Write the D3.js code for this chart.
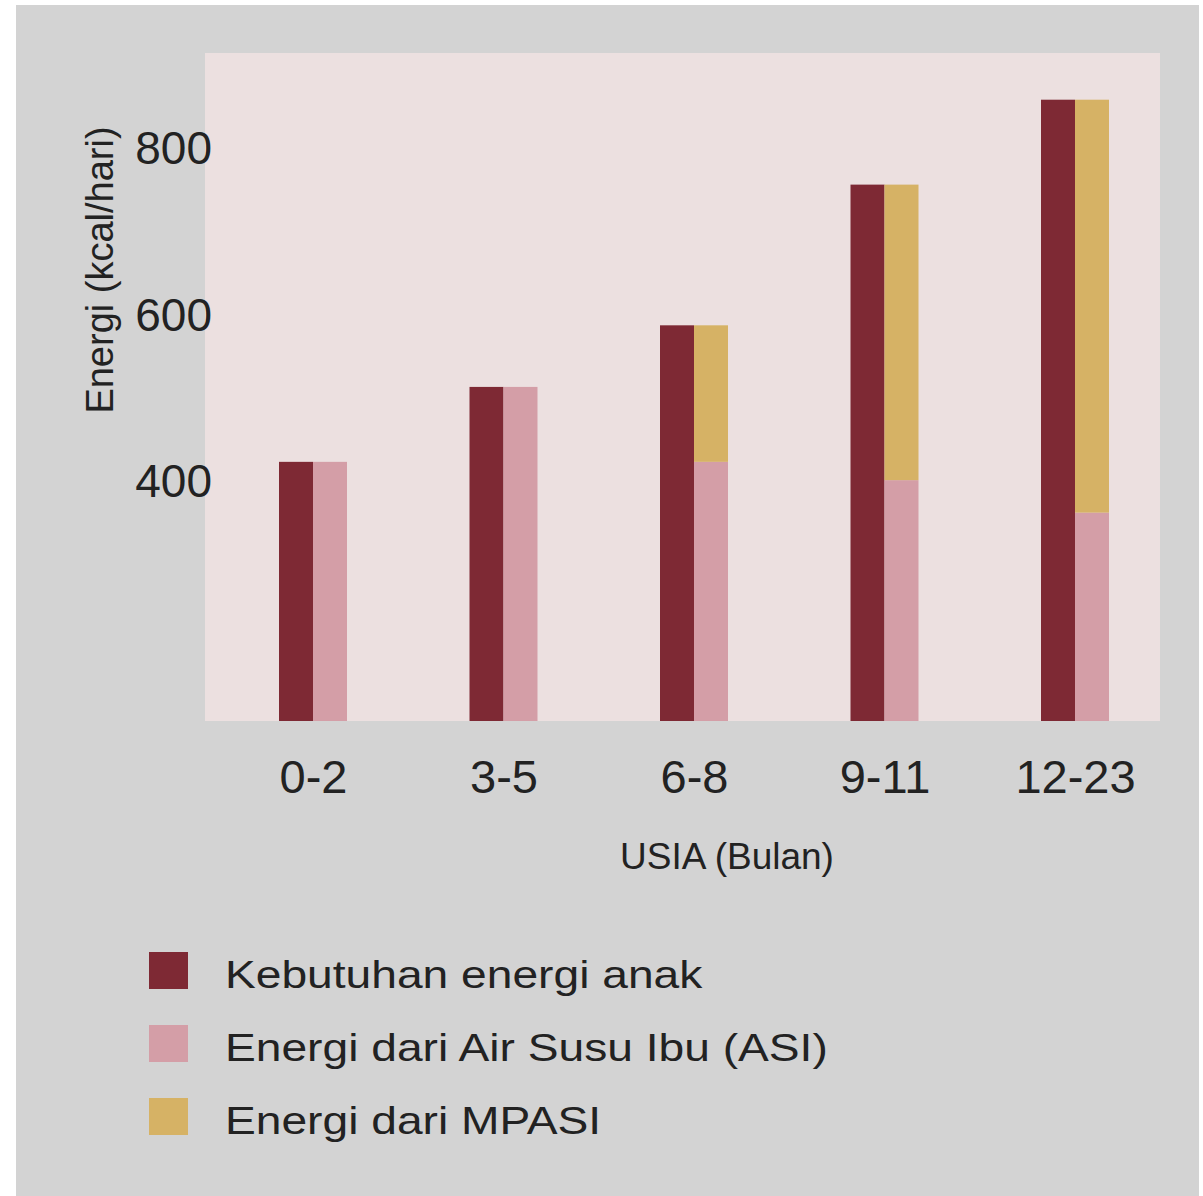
<!DOCTYPE html>
<html>
<head>
<meta charset="utf-8">
<script src="https://cdn.jsdelivr.net/npm/d3@7"></script>
<style>
  html, body { margin: 0; padding: 0; background: #ffffff; }
  svg { display: block; }
  text { font-family: "Liberation Sans", Arial, Helvetica, sans-serif; fill: #222222; }
</style>
</head>
<body>
<svg id="chart" width="1203" height="1196"></svg>
<script>
// Age groups (months)
const ageGroups = ["0-2", "3-5", "6-8", "9-11", "12-23"];
// Total daily energy requirement of the child (kcal/day)
const energyNeed = [424, 514, 588, 757, 859];
// Part covered by breast milk (ASI)
const energyASI = [424, 514, 424, 402, 363];
// Part covered by complementary food (MPASI) = need - ASI
const energyMPASI = [0, 0, 164, 355, 496];
// Y axis tick values
const yTicks = [400, 600, 800];

const seriesNames = {
  need: "Kebutuhan energi anak",
  asi: "Energi dari Air Susu Ibu (ASI)",
  mpasi: "Energi dari MPASI"
};
const colors = { need: "#7e2934", asi: "#d49ea7", mpasi: "#d6b265" };

const svg = d3.select("#chart");

// Grey card
svg.append("rect")
  .attr("x", 16).attr("y", 5)
  .attr("width", 1183).attr("height", 1191)
  .attr("fill", "#d3d3d3");

// Plot panel
const plot = { left: 205, right: 1160, top: 53, bottom: 721 };
svg.append("rect")
  .attr("x", plot.left).attr("y", plot.top)
  .attr("width", plot.right - plot.left)
  .attr("height", plot.bottom - plot.top)
  .attr("fill", "#ece0e0");

const y = d3.scaleLinear()
  .domain([112.7, 915.1])
  .range([plot.bottom, plot.top])
  .clamp(true);

const x = d3.scalePoint()
  .domain(ageGroups)
  .range([plot.left + 108, plot.right - 85]);

const barW = 34;

const rows = ageGroups.map((g, i) => ({
  group: g,
  need: energyNeed[i],
  asi: energyASI[i],
  mpasi: energyMPASI[i]
}));

// Requirement bars (left half of each pair)
svg.append("g").selectAll("rect")
  .data(rows)
  .join("rect")
  .attr("x", d => x(d.group) - barW)
  .attr("y", d => y(d.need))
  .attr("width", barW)
  .attr("height", d => y.range()[0] - y(d.need))
  .attr("fill", colors.need);

// Stacked supply bars: ASI at the bottom, MPASI on top
const stack = d3.stack().keys(["asi", "mpasi"]);
const layers = stack(rows);
svg.append("g").selectAll("g")
  .data(layers)
  .join("g")
  .attr("fill", l => colors[l.key])
  .selectAll("rect")
  .data(l => l.filter(s => s[1] > s[0]))
  .join("rect")
  .attr("x", s => x(s.data.group))
  .attr("y", s => y(s[1]))
  .attr("width", barW)
  .attr("height", s => y(s[0]) - y(s[1]));

// Y axis (labels only)
const yAxis = svg.append("g")
  .attr("transform", `translate(${plot.left + 7},0)`)
  .call(d3.axisLeft(y).tickValues(yTicks).tickSize(0).tickPadding(0));
yAxis.select(".domain").remove();
yAxis.selectAll("text")
  .attr("font-size", 46)
  .attr("fill", "#222222")
  .style("font-family", "'Liberation Sans', Arial, sans-serif");

// X axis (labels only)
const xAxis = svg.append("g")
  .attr("transform", `translate(0,${plot.bottom})`)
  .call(d3.axisBottom(x).tickSize(0).tickPadding(39));
xAxis.select(".domain").remove();
xAxis.selectAll("text")
  .attr("font-size", 47)
  .attr("fill", "#222222")
  .style("font-family", "'Liberation Sans', Arial, sans-serif");

// Axis titles
svg.append("text")
  .attr("x", 727).attr("y", 869)
  .attr("text-anchor", "middle")
  .attr("font-size", 37)
  .text("USIA (Bulan)");

svg.append("text")
  .attr("transform", "translate(113,270) rotate(-90)")
  .attr("text-anchor", "middle")
  .attr("font-size", 38)
  .text("Energi (kcal/hari)");

// Legend
const legendItems = ["need", "asi", "mpasi"];
const legend = svg.append("g").selectAll("g")
  .data(legendItems)
  .join("g")
  .attr("transform", (d, i) => `translate(149,${952 + i * 73})`);
legend.append("rect")
  .attr("width", 39).attr("height", 37)
  .attr("fill", d => colors[d]);
legend.append("text")
  .attr("transform", "translate(76,36) scale(1.215,1)")
  .attr("font-size", 38)
  .text(d => seriesNames[d]);
</script>
</body>
</html>
